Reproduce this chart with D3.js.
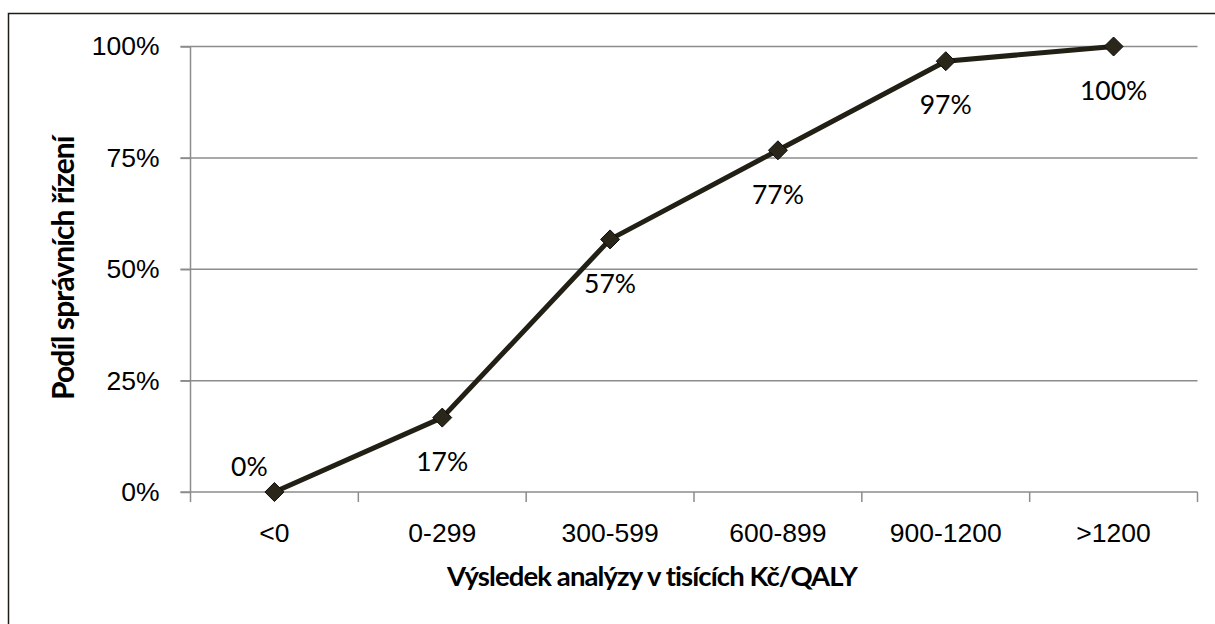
<!DOCTYPE html>
<html lang="cs">
<head>
<meta charset="UTF-8">
<title>Podíl správních řízení</title>
<script src="https://cdn.jsdelivr.net/npm/d3@7"></script>
<style>
    body { margin: 0; background: #fff; }
    svg { display: block; font-family: Lato, "Open Sans", sans-serif; }
    .grid line { stroke: #8c8c8c; stroke-width: 1.5px; }
    .axis path, .axis line { stroke: #8c8c8c; stroke-width: 1.5px; }
    .axis text { font-size: 26.5px; fill: #000; }
    .line { fill: none; stroke: #221f14; stroke-width: 5px; }
    .marker { fill: #2a271a; stroke: #0d0c08; stroke-width: 1px; }
    .lbl { font-size: 26.5px; fill: #000; text-anchor: middle; }
    .title { font-size: 27.5px; font-weight: bold; fill: #000; text-anchor: middle; letter-spacing: -0.9px; }
</style>
</head>
<body>
<div id="chart"></div>
<script>
    // data
    var categories = ["<0", "0-299", "300-599", "600-899", "900-1200", ">1200"];
    var shares = [0, 16.7, 56.7, 76.7, 96.7, 100];
    var shareLabels = ["0%", "17%", "57%", "77%", "97%", "100%"];
    var yTicks = [0, 25, 50, 75, 100];

    var W = 1215, H = 624;
    var margin = {top: 46.5, right: 17.5, bottom: 132, left: 190.5};
    var width = W - margin.left - margin.right,
        height = H - margin.top - margin.bottom;

    var svg = d3.select("#chart").append("svg")
        .attr("width", W)
        .attr("height", H);

    // outer frame
    svg.append("rect")
        .attr("x", 8.5).attr("y", 13.5)
        .attr("width", W).attr("height", H)
        .attr("fill", "none")
        .attr("stroke", "#1e1c14")
        .attr("stroke-width", 1.5);

    var g = svg.append("g")
        .attr("transform", "translate(" + margin.left + "," + margin.top + ")");

    var x = d3.scaleBand().domain(categories).range([0, width]);
    var y = d3.scaleLinear().domain([0, 100]).range([height, 0]);

    // horizontal gridlines
    g.append("g").attr("class", "grid")
        .selectAll("line")
        .data(yTicks.filter(function(d) { return d > 0; }))
        .enter().append("line")
        .attr("x1", -10).attr("x2", width)
        .attr("y1", function(d) { return y(d); })
        .attr("y2", function(d) { return y(d); });

    // y axis
    var yAxis = g.append("g").attr("class", "axis")
        .call(d3.axisLeft(y).tickValues(yTicks).tickSize(10).tickPadding(21)
            .tickFormat(function(d) { return d + "%"; }));
    yAxis.select(".domain").attr("d", "M0," + height + "V0");

    // x axis, ticks on band boundaries
    var xAxis = g.append("g").attr("class", "axis")
        .attr("transform", "translate(0," + height + ")")
        .call(d3.axisBottom(x).tickSize(0).tickPadding(31));
    xAxis.select(".domain").attr("d", "M-10,0H" + width);
    xAxis.selectAll(".bnd")
        .data(d3.range(categories.length + 1))
        .enter().append("line")
        .attr("class", "bnd")
        .attr("x1", function(i) { return i * x.step(); })
        .attr("x2", function(i) { return i * x.step(); })
        .attr("y1", 0).attr("y2", 10);

    var cx = function(d, i) { return x(categories[i]) + x.bandwidth() / 2; };

    // the line
    var line = d3.line()
        .x(function(d, i) { return cx(d, i); })
        .y(function(d) { return y(d); });

    g.append("path")
        .datum(shares)
        .attr("class", "line")
        .attr("d", line);

    // diamond markers
    g.selectAll(".marker")
        .data(shares)
        .enter().append("path")
        .attr("class", "marker")
        .attr("d", "M0,-9.5L9.5,0L0,9.5L-9.5,0Z")
        .attr("transform", function(d, i) {
            return "translate(" + cx(d, i) + "," + y(d) + ")";
        });

    // value labels (first one sits above left, the rest below the point)
    g.selectAll(".lbl")
        .data(shares)
        .enter().append("text")
        .attr("class", "lbl")
        .attr("x", function(d, i) { return i === 0 ? cx(d, i) - 25 : cx(d, i); })
        .attr("y", function(d, i) { return i === 0 ? y(d) - 25 : y(d) + 44; })
        .attr("dy", "0.35em")
        .text(function(d, i) { return shareLabels[i]; });

    // axis titles
    svg.append("text")
        .attr("class", "title")
        .attr("x", 652)
        .attr("y", 576)
        .attr("dy", "0.35em")
        .text("Výsledek analýzy v tisících Kč/QALY");

    svg.append("text")
        .attr("class", "title")
        .style("font-size", "30px")
        .attr("transform", "translate(63," + (margin.top + height / 2 - 1) + ") rotate(-90)")
        .attr("dy", "0.35em")
        .text("Podíl správních řízení");
</script>
</body>
</html>
